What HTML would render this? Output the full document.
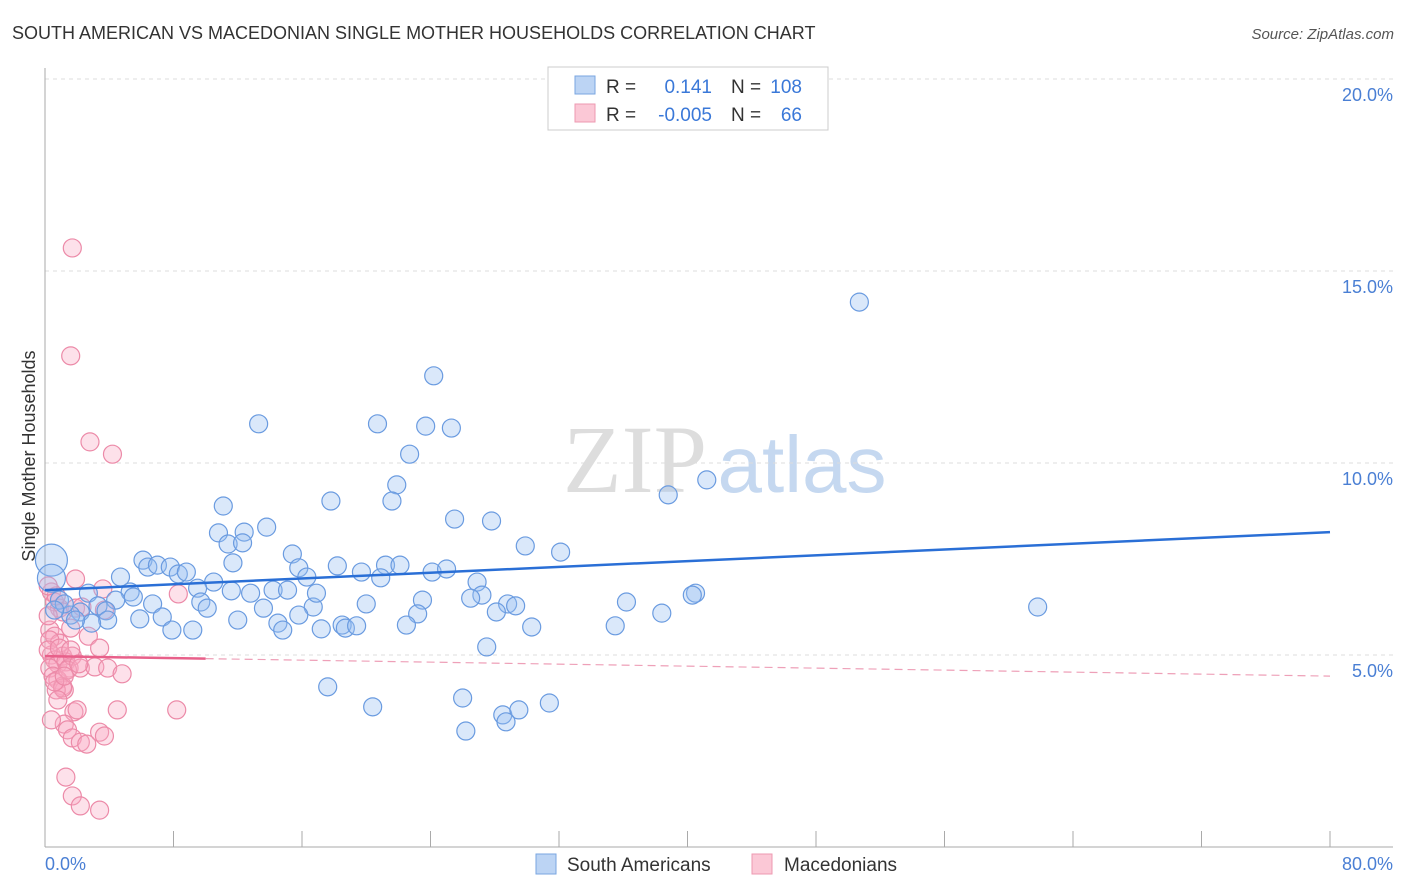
<!DOCTYPE html>
<html><head><meta charset="utf-8"><style>
body{margin:0;background:#fff;font-family:"Liberation Sans",sans-serif}
svg{display:block}
</style></head><body>
<svg id="chart" width="1406" height="892">
<text x="12" y="39" font-size="18" fill="#333">SOUTH AMERICAN VS MACEDONIAN SINGLE MOTHER HOUSEHOLDS CORRELATION CHART</text>
<text x="1394" y="39" font-size="15" fill="#555" font-style="italic" text-anchor="end">Source: ZipAtlas.com</text>
<g>
<text x="635" y="492" font-size="96" fill="#ddd" font-family="Liberation Serif,serif" text-anchor="middle">ZIP</text>
<text x="802" y="492" font-size="80" fill="#c5d8f0" text-anchor="middle">atlas</text>
</g>
<g id="grid"></g>
<g id="axes"></g>
<g id="pts"></g>
<g id="trend"></g>
<text x="35" y="456" font-size="18" fill="#333" transform="rotate(-90 35 456)" text-anchor="middle">Single Mother Households</text>
<text x="45" y="870" font-size="18" fill="#4a7fd4">0.0%</text>
<text x="1393" y="870" font-size="18" fill="#4a7fd4" text-anchor="end">80.0%</text>
<g>
<rect x="548" y="67" width="280" height="63" fill="#fff" stroke="#ccc"/>
<rect x="575" y="76" width="20" height="18" fill="#bcd4f4" stroke="#7aa6e0"/>
<rect x="575" y="104" width="20" height="18" fill="#fbc8d6" stroke="#ee99b0"/>
<text x="606" y="93" font-size="19" fill="#333">R =</text>
<text x="712" y="93" font-size="19" fill="#3a78d8" text-anchor="end">0.141</text>
<text x="731" y="93" font-size="19" fill="#333">N =</text>
<text x="802" y="93" font-size="19" fill="#3a78d8" text-anchor="end">108</text>
<text x="606" y="121" font-size="19" fill="#333">R =</text>
<text x="712" y="121" font-size="19" fill="#3a78d8" text-anchor="end">-0.005</text>
<text x="731" y="121" font-size="19" fill="#333">N =</text>
<text x="802" y="121" font-size="19" fill="#3a78d8" text-anchor="end">66</text>
</g>
<g>
<rect x="536" y="854" width="20" height="20" fill="#bcd4f4" stroke="#7aa6e0"/>
<text x="567" y="871" font-size="19" fill="#333">South Americans</text>
<rect x="752" y="854" width="20" height="20" fill="#fbc8d6" stroke="#ee99b0"/>
<text x="784" y="871" font-size="19" fill="#333">Macedonians</text>
</g>
</svg>
<script>
const yTicks=[5,10,15,20];
const yTickLabels=["5.0%","10.0%","15.0%","20.0%"];
const xTicks=[0,8,16,24,32,40,48,56,64,72,80];
const blueX=[50.7,24.2,13.3,20.7,23.7,25.3,22.7,17.8,21.9,21.6,11.1,38.8,41.2,25.5,27.8,13.8,10.8,12.4,11.4,12.3,29.9,32.1,6.1,15.4,6.4,7.0,7.8,11.7,21.2,22.1,18.2,19.7,8.3,8.8,4.7,15.8,16.3,20.9,24.1,25.0,10.5,9.5,12.8,14.2,15.1,26.9,27.2,5.3,2.7,5.5,4.4,26.5,28.8,29.3,40.5,40.3,36.2,61.8,6.7,9.7,10.1,13.6,16.7,20.0,3.3,3.8,2.2,1.6,15.8,23.5,28.1,5.9,7.3,12.0,3.9,2.9,14.5,23.2,22.5,30.3,35.5,38.4,18.5,18.7,19.4,17.2,14.8,7.9,9.2,27.5,17.6,26.0,20.4,31.4,28.5,29.5,28.7,26.2,0.9,1.9,1.2,16.9,11.6,0.6,0.4,0.4];
const blueY=[14.19,12.27,11.02,11.02,10.96,10.91,10.23,9.01,9.43,9.01,8.88,9.17,9.56,8.54,8.49,8.33,8.18,8.20,7.89,7.92,7.84,7.68,7.47,7.63,7.29,7.34,7.29,7.40,7.34,7.34,7.32,7.16,7.11,7.16,7.03,7.27,7.03,7.01,7.16,7.24,6.90,6.74,6.61,6.69,6.69,6.90,6.56,6.64,6.61,6.51,6.43,6.48,6.33,6.28,6.61,6.56,6.38,6.25,6.33,6.38,6.22,6.22,6.25,6.33,6.28,6.15,6.12,6.04,6.04,6.43,6.12,5.94,5.99,5.91,5.91,5.83,5.83,6.07,5.78,5.73,5.76,6.09,5.78,5.70,5.76,5.68,5.65,5.65,5.65,5.21,4.17,3.88,3.65,3.75,3.44,3.57,3.26,3.02,6.43,5.91,6.33,6.61,6.67,6.17,7.47,7.0];
const blueBig=[0,0,0,0,0,0,0,0,0,0,0,0,0,0,0,0,0,0,0,0,0,0,0,0,0,0,0,0,0,0,0,0,0,0,0,0,0,0,0,0,0,0,0,0,0,0,0,0,0,0,0,0,0,0,0,0,0,0,0,0,0,0,0,0,0,0,0,0,0,0,0,0,0,0,0,0,0,0,0,0,0,0,0,0,0,0,0,0,0,0,0,0,0,0,0,0,0,0,0,0,0,0,0,0,16,14];
const pinkX=[1.7,1.6,2.8,4.2,1.9,3.6,8.3,0.4,0.6,0.9,1.1,1.9,2.3,3.7,0.3,0.6,0.9,1.6,2.7,3.4,0.4,0.6,0.8,1.1,1.3,1.5,1.7,0.3,0.5,0.8,1.1,1.2,1.4,2.2,3.1,3.9,4.8,0.7,1.1,1.8,2.0,4.5,8.2,1.2,1.4,1.7,2.2,2.6,3.4,3.7,1.3,1.7,2.2,3.4,0.4,0.8,0.3,0.2,0.6,0.9,1.6,2.1,1.2,0.7,0.2,0.2];
const pinkY=[15.60,12.79,10.55,10.23,6.98,6.72,6.59,6.64,6.38,6.22,6.12,6.22,6.25,6.17,5.65,5.49,5.31,5.70,5.49,5.18,5.00,4.87,4.77,4.97,4.82,4.66,4.97,4.66,4.45,4.35,4.19,4.09,4.61,4.66,4.69,4.66,4.51,4.09,4.14,3.52,3.57,3.57,3.57,3.20,3.05,2.84,2.73,2.68,2.99,2.89,1.82,1.33,1.07,0.96,3.31,3.83,5.39,5.13,4.30,5.18,5.13,4.77,4.45,6.54,6.02,6.8];
const blueTrend=[6.69,8.20];
const pinkTrend=[4.97,4.45];
const X0=45,X1=1330,Y0=847,PY=38.4;
const xs=v=>X0+(X1-X0)*v/80, ys=v=>Y0-v*PY;
const NS="http://www.w3.org/2000/svg";
function mk(t,a,p){const e=document.createElementNS(NS,t);for(const k in a)e.setAttribute(k,a[k]);p.appendChild(e);return e;}
const grid=document.getElementById('grid'),axes=document.getElementById('axes'),pts=document.getElementById('pts'),tr=document.getElementById('trend');
yTicks.forEach((v,i)=>{
const l=mk('line',{x1:X0,x2:1393,y1:ys(v),y2:ys(v),stroke:'#ddd','stroke-dasharray':'4 4'},grid);


const t=mk('text',{x:1393,y:ys(v)+22,'font-size':18,fill:'#4a7fd4','text-anchor':'end'},grid);
t.textContent=yTickLabels[i];


});
const ya=mk('line',{x1:X0,x2:X0,y1:68,y2:Y0,stroke:'#aaa'},axes);


const xa=mk('line',{x1:X0,x2:1393,y1:Y0,y2:Y0,stroke:'#aaa'},axes);


xTicks.forEach(v=>{
const t=mk('line',{x1:xs(v),x2:xs(v),y1:831,y2:Y0,stroke:'#aaa'},axes);


});
pinkX.forEach((v,i)=>{
const c=mk('circle',{cx:xs(v),cy:ys(pinkY[i]),r:9,fill:'rgba(248,170,195,0.35)',stroke:'#ec8aa8','stroke-width':1.2},pts);


});
blueX.forEach((v,i)=>{
const c=mk('circle',{cx:xs(v),cy:ys(blueY[i]),r:blueBig[i]||9,fill:'rgba(150,190,240,0.35)',stroke:'#6a9be0','stroke-width':1.2},pts);


});
const bl=mk('line',{x1:xs(0),y1:ys(blueTrend[0]),x2:xs(80),y2:ys(blueTrend[1]),stroke:'#2a6fd6','stroke-width':2.5},tr);


const pf=v=>pinkTrend[0]+(pinkTrend[1]-pinkTrend[0])*v/80;
const ps=mk('line',{x1:xs(0),y1:ys(pf(0)),x2:xs(10),y2:ys(pf(10)),stroke:'#e8608a','stroke-width':2.5},tr);


const pd=mk('line',{x1:xs(10),y1:ys(pf(10)),x2:xs(80),y2:ys(pf(80)),stroke:'#eea0b8','stroke-width':1.2,'stroke-dasharray':'8 5'},tr);


</script>
</body></html>
